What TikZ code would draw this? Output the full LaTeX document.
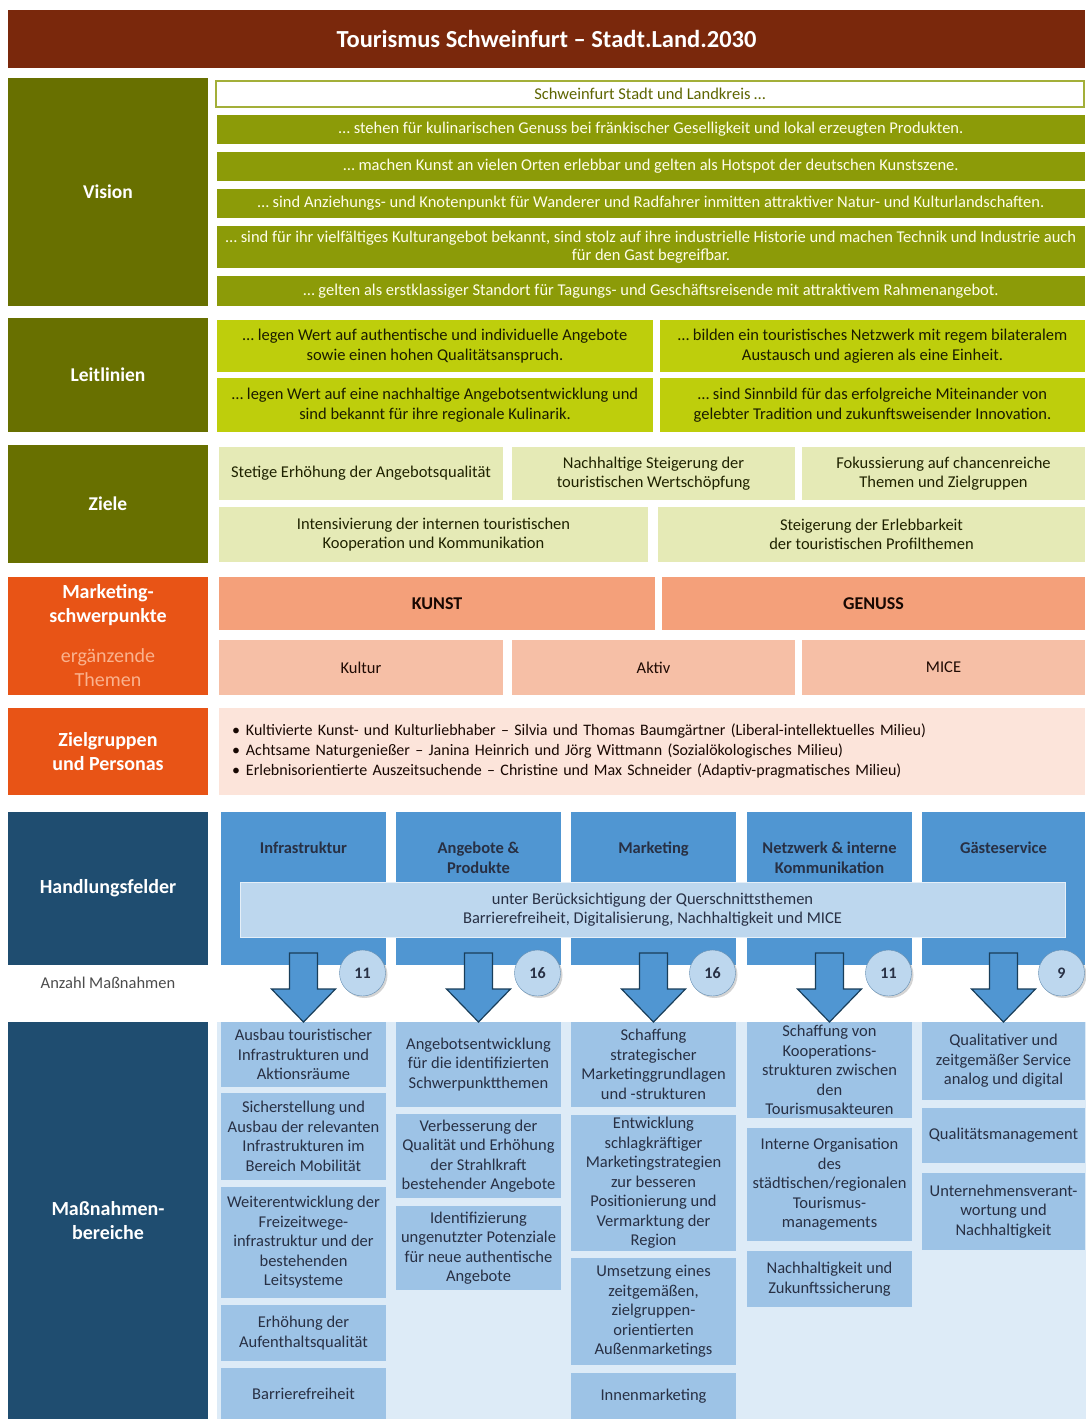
\documentclass[tikz,border=0pt]{standalone}
\usepackage{fontspec}
\setmainfont{Carlito}
\usetikzlibrary{shadows}

\definecolor{titlebrown}{RGB}{122,40,12}
\definecolor{olivedark}{RGB}{104,112,0}
\definecolor{olivemid}{RGB}{140,155,8}
\definecolor{limegreen}{RGB}{190,206,12}
\definecolor{palegreen}{RGB}{229,234,182}
\definecolor{orangered}{RGB}{232,84,22}
\definecolor{salmon}{RGB}{244,160,122}
\definecolor{salmonlight}{RGB}{246,191,166}
\definecolor{rosepale}{RGB}{252,228,218}
\definecolor{peachtext}{RGB}{250,178,142}
\definecolor{navy}{RGB}{31,77,112}
\definecolor{bluemid}{RGB}{80,150,210}
\definecolor{bluepale}{RGB}{189,215,238}
\definecolor{bluebox}{RGB}{157,195,230}
\definecolor{bluebg}{RGB}{221,235,247}
\definecolor{inkdark}{RGB}{40,48,68}

\newcommand{\setsz}[2]{\fontsize{#1}{#2}\selectfont}
% block arrow hanging below a field node
\newcommand{\flowdown}[1]{%
  \draw[flow] ([xshift=-14pt,yshift=12pt]#1.south) -- ([xshift=14pt,yshift=12pt]#1.south)
    -- ([xshift=14pt,yshift=-24pt]#1.south) -- ([xshift=32pt,yshift=-24pt]#1.south)
    -- ([yshift=-57pt]#1.south) -- ([xshift=-32pt,yshift=-24pt]#1.south)
    -- ([xshift=-14pt,yshift=-24pt]#1.south) -- cycle;}

\begin{document}
\begin{tikzpicture}[x=1pt,y=-1pt,
    tile/.style={rectangle,anchor=north west,inner sep=1pt,outer sep=0pt,align=center,
      font=\setsz{16.5}{19.5}},
    wh/.style 2 args={minimum width=#1,minimum height=#2},
    side/.style={tile,text=white,font=\setsz{20}{24}\bfseries},
    vis/.style={tile,fill=olivemid,text=white!92!yellow},
    leit/.style={tile,fill=limegreen,text=black!75!olivedark},
    goal/.style={tile,fill=palegreen,text=black!70!olivedark},
    focus/.style={tile,fill=salmon,text=black!80!titlebrown,font=\setsz{18}{20}\bfseries},
    extra/.style={tile,fill=salmonlight,text=black!75!titlebrown},
    field/.style={tile,fill=bluemid},
    fieldtext/.style={anchor=north,align=center,text=inkdark,font=\setsz{16.5}{20}\bfseries},
    measure/.style={tile,fill=bluebox,text=inkdark},
    count/.style={circle,minimum size=46pt,inner sep=0pt,fill=bluepale,draw=bluemid!60!gray,
      font=\setsz{16}{18}\bfseries,text=inkdark,
      drop shadow={shadow xshift=2pt,shadow yshift=-2pt,opacity=0.35}},
    flow/.style={fill=bluemid,draw=navy!80!black,line width=1.2pt,line join=miter}]

  \useasboundingbox (0,0) rectangle (1086,1419);

  % title bar
  \node[tile,wh={1077}{58},fill=titlebrown,text=white,font=\setsz{24.5}{28}\bfseries] (title)
    at (8,10) {Tourismus Schweinfurt -- Stadt.Land.2030};

  % left column
  \node[side,wh={200}{228},fill=olivedark,font=\setsz{19.5}{24}\bfseries] (vision) at (8,78) {Vision};
  \node[side,wh={200}{114},fill=olivedark,font=\setsz{19.5}{24}\bfseries] (leitlinien) at (8,318) {Leitlinien};
  \node[side,wh={200}{118},fill=olivedark,font=\setsz{19.5}{24}\bfseries] (ziele) at (8,445) {Ziele};
  \node[side,wh={200}{118},fill=orangered,font=\setsz{20}{24}] (marketing) at (8,577)
    {\bfseries Marketing-\\\bfseries schwerpunkte\\[16pt]\color{peachtext}ergänzende\\\color{peachtext}Themen};
  \node[side,wh={200}{87},fill=orangered] (zielgruppen) at (8,708)
    {Zielgruppen\\und Personas};
  \node[side,wh={200}{153},fill=navy] (handlung) at (8,812) {Handlungsfelder};
  \node[text=black!70,font=\setsz{16.5}{18}] (anzahl) at (108,983) {Anzahl Maßnahmen};
  \node[side,wh={200}{397},fill=navy] (massnahmen) at (8,1022) {Maßnahmen-\\bereiche};

  % vision
  \node[tile,wh={868}{26},fill=white,draw=olivemid!80!white,line width=2pt,text=olivedark!90!black]
    (v0) at (216,81) {Schweinfurt Stadt und Landkreis \ldots};
  \node[vis,wh={868}{29}] (v1) at (217,115)
    {\ldots\ stehen für kulinarischen Genuss bei fränkischer Geselligkeit und lokal erzeugten Produkten.};
  \node[vis,wh={868}{29}] (v2) at (217,152)
    {\ldots\ machen Kunst an vielen Orten erlebbar und gelten als Hotspot der deutschen Kunstszene.};
  \node[vis,wh={868}{29}] (v3) at (217,189)
    {\ldots\ sind Anziehungs- und Knotenpunkt für Wanderer und Radfahrer inmitten attraktiver Natur- und Kulturlandschaften.};
  \node[vis,wh={868}{42},font=\setsz{16.5}{18.5}] (v4) at (217,226)
    {\ldots\ sind für ihr vielfältiges Kulturangebot bekannt, sind stolz auf ihre industrielle Historie und machen Technik und Industrie auch\\für den Gast begreifbar.};
  \node[vis,wh={868}{30}] (v5) at (217,276)
    {\ldots\ gelten als erstklassiger Standort für Tagungs- und Geschäftsreisende mit attraktivem Rahmenangebot.};

  % leitlinien
  \node[leit,wh={436}{52}] (l1) at (217,320)
    {\ldots\ legen Wert auf authentische und individuelle Angebote\\sowie einen hohen Qualitätsanspruch.};
  \node[leit,wh={425}{52}] (l2) at (660,320)
    {\ldots\ bilden ein touristisches Netzwerk mit regem bilateralem\\Austausch und agieren als eine Einheit.};
  \node[leit,wh={436}{54}] (l3) at (217,378)
    {\ldots\ legen Wert auf eine nachhaltige Angebotsentwicklung und\\sind bekannt für ihre regionale Kulinarik.};
  \node[leit,wh={425}{54}] (l4) at (660,378)
    {\ldots\ sind Sinnbild für das erfolgreiche Miteinander von\\gelebter Tradition und zukunftsweisender Innovation.};

  % ziele
  \node[goal,wh={284}{53}] (z1) at (219,447) {Stetige Erhöhung der Angebotsqualität};
  \node[goal,wh={283}{53}] (z2) at (512,447) {Nachhaltige Steigerung der\\touristischen Wertschöpfung};
  \node[goal,wh={283}{53}] (z3) at (802,447) {Fokussierung auf chancenreiche\\Themen und Zielgruppen};
  \node[goal,wh={429}{55}] (z4) at (219,507) {Intensivierung der internen touristischen\\Kooperation und Kommunikation};
  \node[goal,wh={427}{55}] (z5) at (658,507) {Steigerung der Erlebbarkeit\\der touristischen Profilthemen};

  % marketing
  \node[focus,wh={436}{53}] (kunst) at (219,577) {KUNST};
  \node[focus,wh={423}{53}] (genuss) at (662,577) {GENUSS};
  \node[extra,wh={284}{55}] (kultur) at (219,640) {Kultur};
  \node[extra,wh={283}{55}] (aktiv) at (512,640) {Aktiv};
  \node[extra,wh={283}{55}] (mice) at (802,640) {MICE};

  % zielgruppen
  \node[tile,minimum height=87,text width=840,inner xsep=13pt,align=left,fill=rosepale,
    text=black!80!titlebrown,font=\setsz{16}{20}] (personas) at (219,708)
    {\textbullet\hspace{6pt}Kultivierte Kunst- und Kulturliebhaber -- Silvia und Thomas Baumgärtner (Liberal-intellektuelles Milieu)\\
     \textbullet\hspace{6pt}Achtsame Naturgenießer -- Janina Heinrich und Jörg Wittmann (Sozialökologisches Milieu)\\
     \textbullet\hspace{6pt}Erlebnisorientierte Auszeitsuchende -- Christine und Max Schneider (Adaptiv-pragmatisches Milieu)};

  % handlungsfelder
  \node[field,wh={165}{153}] (hf1) at (221,812) {};
  \node[field,wh={165}{153}] (hf2) at (396,812) {};
  \node[field,wh={165}{153}] (hf3) at (571,812) {};
  \node[field,wh={165}{153}] (hf4) at (747,812) {};
  \node[field,wh={163}{153}] (hf5) at (922,812) {};
  \node[fieldtext] (hft1) at ([yshift=-26pt]hf1.north) {Infrastruktur};
  \node[fieldtext] (hft2) at ([yshift=-26pt]hf2.north) {Angebote \&\\Produkte};
  \node[fieldtext] (hft3) at ([yshift=-26pt]hf3.north) {Marketing};
  \node[fieldtext] (hft4) at ([yshift=-26pt]hf4.north) {Netzwerk \& interne\\Kommunikation};
  \node[fieldtext] (hft5) at ([yshift=-26pt]hf5.north) {Gästeservice};
  \node[tile,wh={825}{55},fill=bluepale,draw=white!60!bluepale,line width=1pt,text=inkdark]
    (quer) at (240,882)
    {unter Berücksichtigung der Querschnittsthemen\\Barrierefreiheit, Digitalisierung, Nachhaltigkeit und MICE};

  % massnahmen
  \fill[bluebg] (217,1022) rectangle (1086,1419);
  \node[measure,wh={165}{65}] (m11) at (221,1022) {Ausbau touristischer\\Infrastrukturen und\\Aktionsräume};
  \node[measure,wh={165}{87}] (m12) at (221,1093) {Sicherstellung und\\Ausbau der relevanten\\Infrastrukturen im\\Bereich Mobilität};
  \node[measure,wh={165}{111}] (m13) at (221,1187) {Weiterentwicklung der\\Freizeitwege-\\infrastruktur und der\\bestehenden\\Leitsysteme};
  \node[measure,wh={165}{56}] (m14) at (221,1305) {Erhöhung der\\Aufenthaltsqualität};
  \node[measure,wh={165}{51}] (m15) at (221,1368) {Barrierefreiheit};

  \node[measure,wh={165}{85}] (m21) at (396,1022) {Angebotsentwicklung\\für die identifizierten\\Schwerpunktthemen};
  \node[measure,wh={165}{84}] (m22) at (396,1114) {Verbesserung der\\Qualität und Erhöhung\\der Strahlkraft\\bestehender Angebote};
  \node[measure,wh={165}{84}] (m23) at (396,1206) {Identifizierung\\ungenutzter Potenziale\\für neue authentische\\Angebote};

  \node[measure,wh={165}{85}] (m31) at (571,1022) {Schaffung\\strategischer\\Marketinggrundlagen\\und -strukturen};
  \node[measure,wh={165}{136}] (m32) at (571,1115) {Entwicklung\\schlagkräftiger\\Marketingstrategien\\zur besseren\\Positionierung und\\Vermarktung der\\Region};
  \node[measure,wh={165}{107}] (m33) at (571,1258) {Umsetzung eines\\zeitgemäßen,\\zielgruppen-\\orientierten\\Außenmarketings};
  \node[measure,wh={165}{46}] (m34) at (571,1373) {Innenmarketing};

  \node[measure,wh={165}{96}] (m41) at (747,1022) {Schaffung von\\Kooperations-\\strukturen zwischen\\den\\Tourismusakteuren};
  \node[measure,wh={165}{113}] (m42) at (747,1128) {Interne Organisation\\des\\städtischen/regionalen\\Tourismus-\\managements};
  \node[measure,wh={165}{56}] (m43) at (747,1251) {Nachhaltigkeit und\\Zukunftssicherung};

  \node[measure,wh={163}{78}] (m51) at (922,1022) {Qualitativer und\\zeitgemäßer Service\\analog und digital};
  \node[measure,wh={163}{55}] (m52) at (922,1108) {Qualitätsmanagement};
  \node[measure,wh={163}{77}] (m53) at (922,1173) {Unternehmensverant-\\wortung und\\Nachhaltigkeit};

  % arrows with counts
  \flowdown{hf1}
  \flowdown{hf2}
  \flowdown{hf3}
  \flowdown{hf4}
  \flowdown{hf5}
  \node[count] (c1) at ([xshift=59pt,yshift=-8pt]hf1.south) {11};
  \node[count] (c2) at ([xshift=59pt,yshift=-8pt]hf2.south) {16};
  \node[count] (c3) at ([xshift=59pt,yshift=-8pt]hf3.south) {16};
  \node[count] (c4) at ([xshift=59pt,yshift=-8pt]hf4.south) {11};
  \node[count] (c5) at ([xshift=58pt,yshift=-8pt]hf5.south) {9};
\end{tikzpicture}
\end{document}
